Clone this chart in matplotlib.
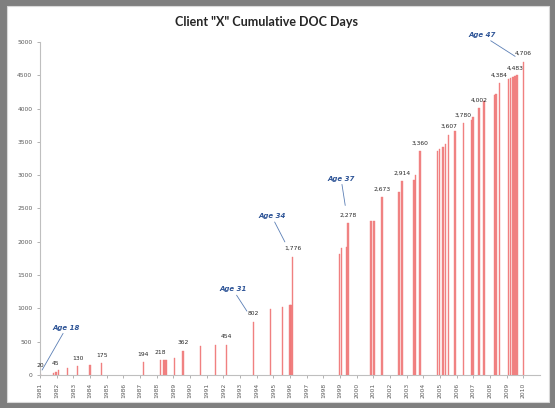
import matplotlib.pyplot as plt
from matplotlib.patches import Rectangle

# bar dates (decimal years) and cumulative DOC days
dates = [1981.0, 1981.8, 1981.95, 1982.1, 1982.66, 1983.25, 1984.0, 1984.7,
         1987.2, 1988.24, 1988.4, 1988.5, 1988.6, 1989.07, 1989.57,
         1990.63, 1991.53, 1992.18, 1993.82, 1994.82, 1995.55, 1996.0, 1996.06, 1996.15,
         1998.96, 1999.1, 1999.4, 1999.48, 2000.86, 2001.04, 2001.53,
         2002.53, 2002.71, 2003.45, 2003.53, 2003.79,
         2004.85, 2004.98, 2005.18, 2005.32, 2005.52, 2005.9, 2006.4, 2006.9, 2006.98,
         2007.33, 2007.63, 2008.27, 2008.37, 2008.57,
         2009.11, 2009.23, 2009.37, 2009.51, 2009.63, 2010.0]
days = [20, 30, 45, 75, 110, 130, 155, 175,
        194, 218, 218, 218, 218, 260, 362,
        440, 445, 454, 802, 985, 1025, 1045, 1055, 1776,
        1820, 1900, 1915, 2278, 2310, 2315, 2673,
        2750, 2914, 2935, 3000, 3360,
        3370, 3390, 3430, 3470, 3607, 3670, 3780, 3830, 3880,
        4002, 4115, 4205, 4220, 4384,
        4440, 4455, 4470, 4483, 4500, 4706]

# which bars carry a value label
labelled = [1981.0, 1981.95, 1983.25, 1984.7, 1987.2, 1988.24, 1989.57, 1992.18,
            1993.82, 1996.15, 1999.48, 2001.53, 2002.71, 2003.79, 2005.52,
            2006.4, 2007.33, 2008.57, 2009.51, 2010.0]

# age call-outs: (bar date, text, offset in points, line shrink)
ages = [(1981.0, "Age 18", (19, 31), 3),
        (1993.82, "Age 31", (-15, 21), 9),
        (1996.15, "Age 34", (-15, 27), 12),
        (1999.48, "Age 37", (-5, 30), 13),
        (2010.0, "Age 47", (-30, 17), 7)]

years = list(range(1981, 2011))

fig = plt.figure(figsize=(5.55, 4.08), dpi=100)
fig.patch.set_facecolor("#7f7f7f")
fig.patches.append(Rectangle((7 / 555, 1 - 402 / 408), 542 / 555, 396 / 408,
                             transform=fig.transFigure, facecolor="white",
                             edgecolor="#d9d9d9", linewidth=0.8, zorder=-5))

ax = fig.add_axes([40 / 555, 1 - 375 / 408, 500 / 555, 333 / 408])
ax.set_facecolor("none")

ax.bar(dates, days, width=0.09, color="#f07878", edgecolor="#f07878",
       linewidth=0.3, alpha=0.9)

for d, v in zip(dates, days):
    if d in labelled:
        txt = f"{v:,}" if v >= 1000 else str(v)
        ax.annotate(txt, (d, v), xytext=(0, 4), textcoords="offset points",
                    ha="center", va="bottom", fontsize=4.3, color="#262626")

for d, text, off, sh in ages:
    v = days[dates.index(d)]
    ax.annotate(text, (d, v), xytext=off, textcoords="offset points",
                ha="center", va="bottom", fontsize=5, color="#2f5597",
                style="italic", fontweight="bold",
                arrowprops=dict(arrowstyle="-", color="#5b7fb5", lw=0.6,
                                shrinkA=0, shrinkB=sh))

ax.set_xlim(1981, 2011)
ax.set_ylim(0, 5000)
ax.set_yticks(range(0, 5001, 500))
ax.set_xticks(years)
ax.set_xticklabels([str(y) for y in years], rotation=90)
ax.tick_params(axis="both", labelsize=4.3, labelcolor="#595959",
               color="#a6a6a6", length=2, width=0.6)

for s in ["top", "right"]:
    ax.spines[s].set_visible(False)
for s in ["left", "bottom"]:
    ax.spines[s].set_color("#bfbfbf")
    ax.spines[s].set_linewidth(0.8)

fig.text(0.481, 1 - 22 / 408, 'Client "X" Cumulative DOC Days', ha="center",
         va="center", fontsize=9, fontweight="bold", family="Lato",
         color="#262626")

fig.savefig("out.png", dpi=100, facecolor=fig.get_facecolor())
